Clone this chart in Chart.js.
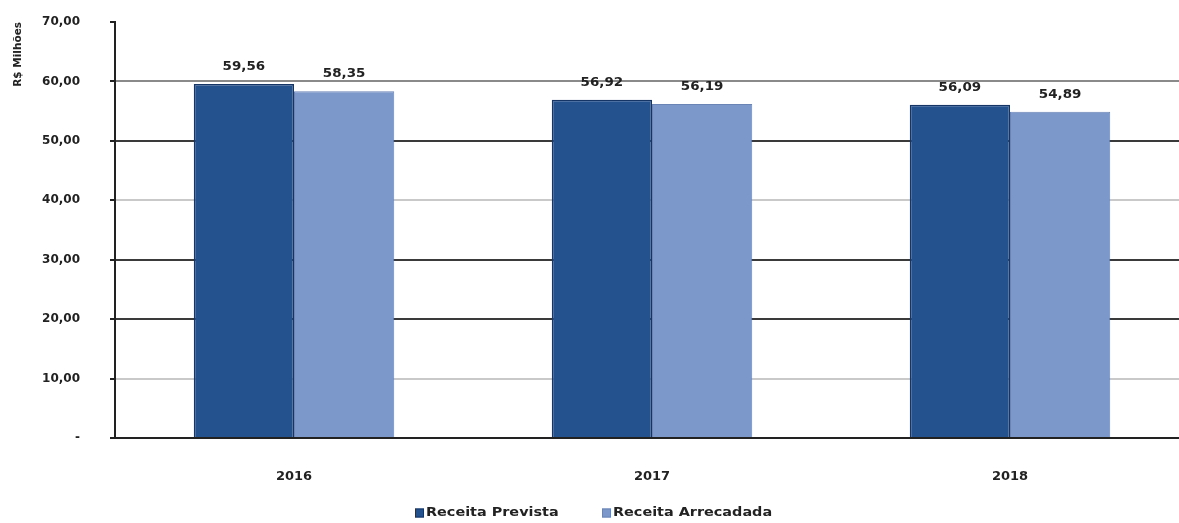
<!DOCTYPE html>
<html>
<head>
<meta charset="utf-8">
<script src="https://cdn.jsdelivr.net/npm/chart.js@4/dist/chart.umd.min.js"></script>
<style>
  html, body { margin: 0; padding: 0; background: #fff; overflow: hidden; width: 1179px; height: 523px; }
  #wrap { position: relative; width: 1189px; height: 523px; }
</style>
</head>
<body>
<div id="wrap"><canvas id="c" width="1189" height="523"></canvas></div>
<script>
const categories = ['2016', '2017', '2018'];
const receitaPrevista = [59.56, 56.92, 56.09];
const receitaArrecadada = [58.35, 56.19, 54.89];
const seriesNames = ['Receita Prevista', 'Receita Arrecadada'];
const yAxisTitle = 'R$ Milhões';

const FONT = 'DejaVu Sans';
const fmt = v => v.toFixed(2).replace('.', ',');

const gridColors = {0: 'rgba(0,0,0,0)', 10: '#c9c9c9', 20: '#3a3a3a', 30: '#3a3a3a', 40: '#c9c9c9', 50: '#3a3a3a', 60: '#8a8a8a', 70: 'rgba(0,0,0,0)'};

// draw text horizontally stretched (the reference text is wide)
function wideText(ctx, text, x, y, sx, align) {
  ctx.save();
  ctx.translate(x, y);
  ctx.scale(sx, 1);
  ctx.textAlign = align;
  ctx.fillText(text, 0, 0);
  ctx.restore();
}

const valueLabels = {
  id: 'valueLabels',
  afterDatasetsDraw(chart) {
    const ctx = chart.ctx;
    ctx.save();
    ctx.font = 'bold 12px "' + FONT + '"';
    ctx.fillStyle = '#222';
    ctx.textBaseline = 'bottom';
    chart.data.datasets.forEach((ds, i) => {
      chart.getDatasetMeta(i).data.forEach((bar, j) => {
        wideText(ctx, fmt(ds.data[j]), bar.x, bar.y - 11, 1.12, 'center');
      });
    });
    ctx.restore();
  }
};

const customLegend = {
  id: 'customLegend',
  afterDraw(chart) {
    const ctx = chart.ctx;
    ctx.save();
    ctx.font = 'bold 12px "' + FONT + '"';
    ctx.textBaseline = 'middle';
    const y = 513;
    const box = 9, gapText = 2;
    const ds = chart.data.datasets;
    const starts = [415, 602];
    ds.forEach((d, i) => {
      const x = starts[i];
      ctx.fillStyle = d.backgroundColor;
      ctx.fillRect(x, y - box / 2, box, box);
      ctx.strokeStyle = d.borderColor;
      ctx.lineWidth = 1;
      ctx.strokeRect(x + 0.5, y - box / 2 + 0.5, box - 1, box - 1);
      ctx.fillStyle = '#222';
      wideText(ctx, d.label, x + box + gapText, y, 1.2, 'left');
    });
    ctx.restore();
  }
};

const chart = new Chart(document.getElementById('c'), {
  type: 'bar',
  data: {
    labels: categories,
    datasets: [
      { label: seriesNames[0], data: receitaPrevista, backgroundColor: '#24528f', borderColor: '#143566', borderWidth: 1.5 },
      { label: seriesNames[1], data: receitaArrecadada, backgroundColor: '#7c97c9', borderColor: '#6a84b6', borderWidth: 1 }
    ]
  },
  options: {
    responsive: false,
    animation: false,
    layout: { padding: { top: 22, right: 0, bottom: 0, left: 0 } },
    datasets: { bar: { categoryPercentage: 0.56, barPercentage: 1.0 } },
    plugins: {
      legend: { display: false },
      tooltip: { enabled: false }
    },
    scales: {
      x: {
        grid: { display: false, drawTicks: false },
        border: { display: true, color: '#222', width: 2 },
        ticks: { color: '#222', padding: 31, font: { family: FONT, size: 13, weight: 'bold' } },
        afterFit: s => { s.height = 85; s.paddingLeft = 0; s.paddingRight = 0; }
      },
      y: {
        min: 0, max: 70,
        grid: {
          color: ctx => gridColors[ctx.tick ? ctx.tick.value : 0] || 'rgba(0,0,0,0)',
          tickColor: '#222',
          lineWidth: 2,
          tickLength: 5,
          drawTicks: true
        },
        border: { display: true, color: '#222', width: 2 },
        ticks: {
          stepSize: 10,
          color: '#222',
          padding: 30,
          font: { family: FONT, size: 12, weight: 'bold' },
          callback: v => v === 0 ? '-' : fmt(v)
        },
        title: {
          display: true,
          text: yAxisTitle,
          align: 'end',
          color: '#222',
          padding: { top: 12, bottom: 0 },
          font: { family: FONT, size: 10.5, weight: 'bold' }
        },
        afterFit: s => { s.width = 115; s.paddingTop = 0; s.paddingBottom = 0; }
      }
    }
  },
  plugins: [valueLabels, customLegend]
});
</script>
</body>
</html>
